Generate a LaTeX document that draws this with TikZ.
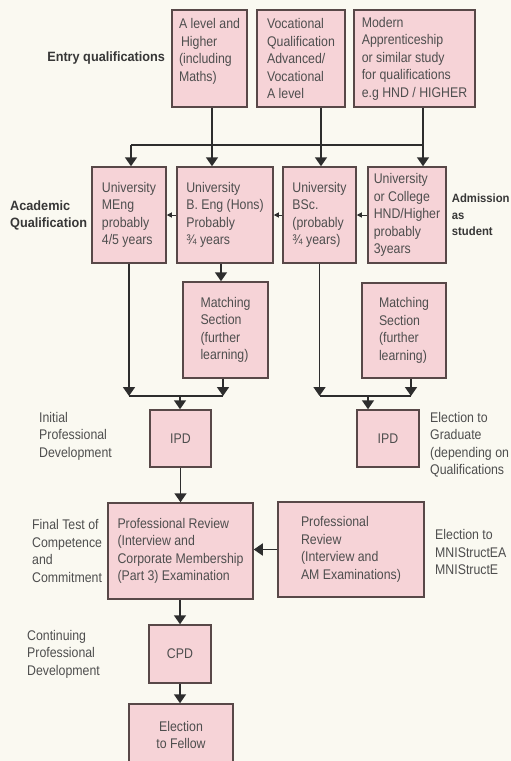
\documentclass[tikz,border=0pt]{standalone}
\usepackage{fontspec}
\setmainfont{Liberation Sans}[FakeStretch=0.88]
\newfontfamily\headfont{Liberation Sans}[FakeStretch=0.94]
\usetikzlibrary{arrows.meta,positioning}
\definecolor{paper}{RGB}{250,249,241}
\definecolor{boxfill}{RGB}{246,211,215}
\definecolor{boxline}{RGB}{88,72,72}
\definecolor{ink}{RGB}{78,78,78}
\definecolor{wirecol}{RGB}{45,45,45}
\tikzset{
  qbox/.style={draw=boxline, fill=boxfill, line width=1.5pt, align=left, inner sep=2pt,
    text=ink, font=\fontsize{14}{17.5}\selectfont},
  lbl/.style={align=left, inner sep=0pt, text=ink, font=\fontsize{14}{17.5}\selectfont},
  hlbl/.style={align=left, inner sep=0pt, text=ink!70!black,
    font=\headfont\bfseries\fontsize{13.5}{17}\selectfont},
  wire/.style={draw=wirecol, line width=1.6pt},
  arr/.style={wire, -{Triangle[width=12pt,length=9pt]}},
  tip/.style={wire, line width=1pt, -{Triangle[width=5pt,length=5pt]}},
}
\begin{document}
\begin{tikzpicture}[x=1pt,y=-1pt]
  \clip (0,0) rectangle (511,761);
  \fill[paper] (0,0) rectangle (511,761);
  % entry qualifications
  \node[qbox, minimum width=75pt, minimum height=97pt] (alev) at (209.5,58.5)
    {A level and\\\hspace{2pt}Higher\\(including\\Maths)\\\mbox{}};
  \node[qbox, minimum width=88pt, minimum height=97pt] (voc) at (301,58.5)
    {Vocational\\Qualification\\Advanced/\\Vocational\\A level};
  \node[qbox, minimum width=121pt, minimum height=97pt] (mod) at (414.5,58.5)
    {Modern\\Apprenticeship\\or similar study\\for qualifications\\e.g HND / HIGHER};
  \node[hlbl, left=6pt of alev] (entry) {Entry qualifications};
  % academic qualification
  \node[qbox, minimum width=74pt, minimum height=96pt] (meng) at (129,215)
    {University\\MEng\\probably\\4/5 years};
  \node[qbox, minimum width=96pt, minimum height=96pt] (beng) at (225,215)
    {University\\B. Eng (Hons)\\Probably\\¾ years};
  \node[qbox, minimum width=73pt, minimum height=96pt] (bsc) at (319.5,215)
    {University\\BSc.\\(probably\\¾ years)};
  \node[qbox, minimum width=78pt, minimum height=96pt] (hnd) at (407,215)
    {University\\or College\\HND/Higher\\probably\\3years};
  \node[hlbl, left=4pt of meng] (acad) {Academic\\Qualification};
  \node[hlbl, font=\headfont\bfseries\fontsize{12}{16.5}\selectfont, right=5pt of hnd] (admit)
    {Admission\\as\\student};
  % matching sections
  \node[qbox, minimum width=85pt, minimum height=96pt] (match1) at (225.5,330)
    {Matching\\Section\\(further\\learning)};
  \node[qbox, minimum width=84pt, minimum height=95pt] (match2) at (404,330.5)
    {Matching\\Section\\(further\\learning)};
  % initial professional development
  \node[qbox, minimum width=61pt, minimum height=57pt] (ipd1) at (180.5,438.5) {IPD};
  \node[qbox, minimum width=62pt, minimum height=57pt] (ipd2) at (388,438.5) {IPD};
  \node[lbl, anchor=west] (ipdtxt) at (39,436) {Initial\\Professional\\Development};
  \node[lbl, anchor=west] (gradtxt) at (430,444.5)
    {Election to\\Graduate\\(depending on\\Qualifications};
  % professional review
  \node[qbox, minimum width=145pt, minimum height=96pt] (prl) at (180.5,551)
    {Professional Review\\(Interview and\\Corporate Membership\\(Part 3) Examination};
  \node[qbox, minimum width=146pt, minimum height=95pt] (prr) at (351,549.5)
    {Professional\\Review\\(Interview and\\AM Examinations)};
  \node[lbl, left=5pt of prl] (finaltxt) {Final Test of\\Competence\\and\\Commitment};
  \node[lbl, anchor=west] (mnitxt) at (435,552) {Election to\\MNIStructEA\\MNIStructE};
  % continuing development
  \node[qbox, minimum width=62pt, minimum height=58pt] (cpd) at (180,654) {CPD};
  \node[lbl, anchor=west] (cpdtxt) at (27,654) {Continuing\\Professional\\Development};
  \node[qbox, align=center, minimum width=104pt, minimum height=62pt] (fellow) at (181,735)
    {Election\\to Fellow};
  % connectors, top
  \coordinate (jl) at (131,145);
  \coordinate (jr) at (423,145);
  \draw[wire] (mod.south -| jr) -- (jr) -- (jl);
  \draw[arr] (jl) -- (jl |- meng.north);
  \draw[arr] (jr) -- (jr |- hnd.north);
  \foreach \s/\x/\t in {alev/212/beng, voc/321/bsc}
    \draw[arr] (\x,0 |- \s.south) -- (\x,0 |- \t.north);
  \foreach \a/\b in {beng/meng, bsc/beng, hnd/bsc}
    \draw[tip] (\a.west) -- (\b.east);
  \draw[arr] ([xshift=-4pt]beng.south) -- ([xshift=-4pt]beng.south |- match1.north);
  % joins into IPD
  \coordinate (jn) at (180,396);
  \coordinate (jm) at (368,396);
  \draw[arr] (meng.south) -- (meng.south |- jn);
  \draw[arr] ([xshift=-2.5pt]match1.south) -- ([xshift=-2.5pt]match1.south |- jn);
  \draw[wire] (meng.south |- jn) -- ([xshift=-2.5pt]match1.south |- jn);
  \draw[arr] (jn) -- (jn |- ipd1.north);
  \draw[arr] (bsc.south) -- (bsc.south |- jm);
  \draw[arr] ([xshift=7pt]match2.south) -- ([xshift=7pt]match2.south |- jm);
  \draw[wire] (bsc.south |- jm) -- ([xshift=7pt]match2.south |- jm);
  \draw[arr] (jm) -- (jm |- ipd2.north);
  % lower chain
  \draw[arr] (ipd1.south) -- (prl.north);
  \draw[arr] (prr.west) -- (prr.west -| prl.east);
  \draw[arr] (cpd.north |- prl.south) -- (cpd.north);
  \draw[arr] (cpd.south) -- (cpd.south |- fellow.north);
\end{tikzpicture}
\end{document}
